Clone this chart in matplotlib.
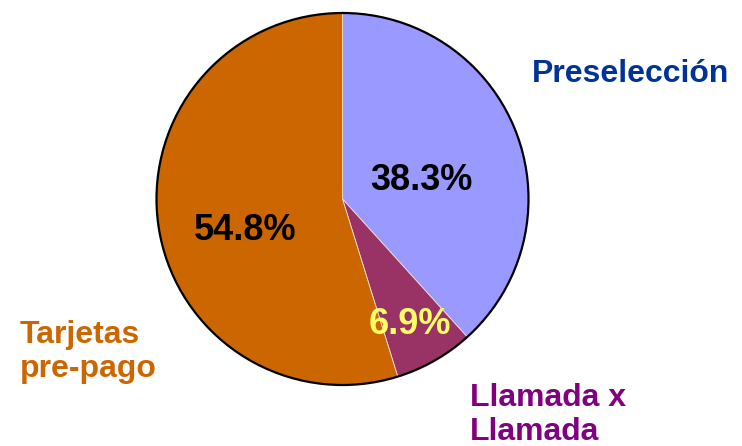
import matplotlib.pyplot as plt
from matplotlib.patches import Circle

plt.rcParams['font.family'] = ['Liberation Sans', 'DejaVu Sans']

labels = ["Preselección", "Llamada x\nLlamada", "Tarjetas\npre-pago"]
shares = [38.3, 6.9, 54.8]
colors = ["#9999FF", "#993366", "#CC6600"]
label_colors = ["#003399", "#800080", "#CC6600"]
pct_colors = ["black", "#FFFF66", "black"]

W, H = 742, 446
fig = plt.figure(figsize=(W / 100, H / 100), dpi=100)
ax = fig.add_axes([0, 0, 1, 1])
ax.set_xlim(0, W)
ax.set_ylim(0, H)
ax.axis("off")

cx, cy, r = 342.5, H - 199, 186

wedges, _ = ax.pie(shares, colors=colors, startangle=90, counterclock=False,
                   center=(cx, cy), radius=r, frame=True,
                   wedgeprops=dict(linewidth=0.6, edgecolor="#f0e0d0"))
ax.set_xlim(0, W)
ax.set_ylim(0, H)
ax.set_aspect("equal")
ax.axis("off")
ax.add_patch(Circle((cx, cy), r, fill=False, edgecolor="black", linewidth=1.6))

# percentage labels
pct_pos = [(421, H - 181), (410, H - 325), (245, H - 230)]
for val, (x, y), c in zip(shares, pct_pos, pct_colors):
    ax.text(x, y, f"{val}%", ha="center", va="center", fontsize=26,
            fontweight="bold", color=c)

# category labels
ax.text(532, H - 74, labels[0], ha="left", va="center", fontsize=23,
        fontweight="bold", color=label_colors[0])
ax.text(470, H - 415, labels[1], ha="left", va="center", fontsize=23,
        fontweight="bold", color=label_colors[1], linespacing=1.15)
ax.text(20, H - 352, labels[2], ha="left", va="center", fontsize=23,
        fontweight="bold", color=label_colors[2], linespacing=1.15)

fig.savefig("out.png", dpi=100, facecolor="white")
